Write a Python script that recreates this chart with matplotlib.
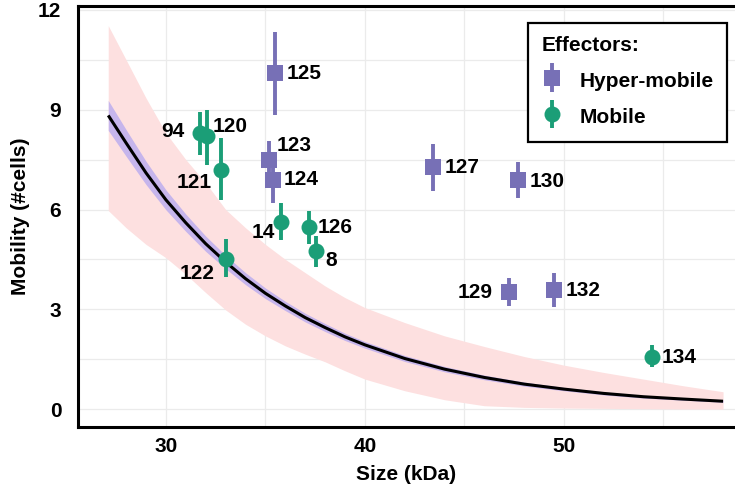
import numpy as np
import matplotlib
matplotlib.use("Agg")
import matplotlib.pyplot as plt
from matplotlib.legend_handler import HandlerErrorbar

plt.rcParams['font.family'] = ['Liberation Sans', 'DejaVu Sans']
plt.rcParams['font.weight'] = 'bold'

# hyper-mobile effectors
hyper_ids = ["125", "123", "124", "127", "130", "129", "132"]
hyper_size = [35.48, 35.18, 35.38, 43.42, 47.7, 47.24, 49.5]
hyper_mob = [10.1, 7.5, 6.9, 7.27, 6.9, 3.51, 3.57]
hyper_lo = [8.83, 7.0, 6.2, 6.57, 6.36, 3.09, 3.06]
hyper_hi = [11.35, 8.05, 7.4, 7.98, 7.42, 3.93, 4.08]

# mobile effectors
mob_ids = ["94", "120", "121", "14", "126", "8", "122", "134"]
mob_size = [31.7, 32.06, 32.76, 35.78, 37.19, 37.54, 33.0, 54.42]
mob_mob = [8.3, 8.2, 7.2, 5.62, 5.47, 4.75, 4.5, 1.56]
mob_lo = [7.63, 7.33, 6.28, 5.07, 4.95, 4.26, 3.96, 1.26]
mob_hi = [8.92, 9.0, 8.14, 6.19, 5.95, 5.2, 5.1, 1.92]

# fitted curve + bands
fit_x = [27.1, 28, 29, 30, 31, 32, 33, 34, 35, 36, 37, 38, 39, 40,
         42, 44, 46, 48, 50, 52, 54, 56, 58]
fit_y = [8.83, 8.0, 7.1, 6.29, 5.6, 4.97, 4.42, 3.92, 3.48, 3.1, 2.75, 2.45, 2.17, 1.93,
         1.52, 1.2, 0.95, 0.75, 0.6, 0.47, 0.37, 0.3, 0.235]
outer_hi = [11.53, 10.5, 9.35, 8.3, 7.5, 6.8, 6.0, 5.45, 4.95, 4.5, 4.1, 3.7, 3.35, 3.05,
            2.6, 2.2, 1.88, 1.58, 1.32, 1.1, 0.9, 0.7, 0.52]
outer_lo = [5.97, 5.45, 4.95, 4.55, 4.05, 3.5, 2.98, 2.55, 2.2, 1.9, 1.65, 1.42, 1.15, 0.9,
            0.55, 0.28, 0.1, 0.05, 0.03, 0.02, 0.01, 0.0, 0.0]
inner_hw = [0.45, 0.4, 0.35, 0.3, 0.26, 0.23, 0.2, 0.18, 0.16, 0.14, 0.13, 0.12, 0.11, 0.1,
            0.09, 0.08, 0.07, 0.06, 0.05, 0.045, 0.04, 0.035, 0.03]

# label offsets in pixels (dx, dy, ha)
hyper_off = [(12, 0, "left"), (8, 14, "left"), (11, 0, "left"), (12, 0, "left"),
             (12, -2, "left"), (-16, 0, "right"), (12, 0, "left")]
mob_off = [(-15, 2, "right"), (6, 10, "left"), (-9, -13, "right"), (-6, -10, "right"),
           (9, 0, "left"), (9, -9, "left"), (-11, -14, "right"), (10, 0, "left")]

purple = "#7770b6"
green = "#1b9e77"
fs = 15

fig = plt.figure(figsize=(7.35, 4.94), dpi=100)
ax = fig.add_axes([78 / 735, 67 / 494, 657 / 735, 421 / 494])

fx = np.array(fit_x)
fy = np.array(fit_y)
hw = np.array(inner_hw)
ax.fill_between(fx, outer_lo, outer_hi, color="#fde0e0", lw=0, zorder=1)
ax.fill_between(fx, fy - hw, fy + hw, color="#c6b5ec", lw=0, zorder=2)
ax.plot(fx, fy, color="black", lw=2.2, zorder=3, solid_capstyle="butt")

def draw(sizes, mobs, lo, hi, col, mk, ms, lab):
    m = np.array(mobs)
    yerr = [m - np.array(lo), np.array(hi) - m]
    return ax.errorbar(sizes, mobs, yerr=yerr, fmt=mk, color=col, ms=ms,
                       elinewidth=2.8, capsize=0, mew=0, zorder=5, label=lab)

h1 = draw(hyper_size, hyper_mob, hyper_lo, hyper_hi, purple, "s", 11.5, "Hyper-mobile")
h2 = draw(mob_size, mob_mob, mob_lo, mob_hi, green, "o", 11.5, "Mobile")

for ids, xs, ys, offs in [(hyper_ids, hyper_size, hyper_mob, hyper_off),
                          (mob_ids, mob_size, mob_mob, mob_off)]:
    for t, x, y, (dx, dy, ha) in zip(ids, xs, ys, offs):
        ax.annotate(t, (x, y), xytext=(dx, dy), textcoords="offset pixels",
                    ha=ha, va="center", fontsize=fs, fontweight="bold", zorder=6)

ax.set_xlim(25.58, 58.6)
ax.set_ylim(-0.54, 12.12)
ax.set_xticks([30, 40, 50])
ax.set_xticks([35, 45, 55], minor=True)
ax.set_yticks([0, 3, 6, 9, 12])
ax.set_yticks([1.5, 4.5, 7.5, 10.5], minor=True)
ax.grid(True, which="both", color="#ebebeb", lw=0.9, zorder=0)
ax.set_axisbelow(True)
ax.tick_params(which="both", length=0)
ax.tick_params(axis="y", pad=12, labelsize=fs)
ax.tick_params(axis="x", pad=7, labelsize=fs)
for lab in ax.get_xticklabels() + ax.get_yticklabels():
    lab.set_fontweight("bold")

for s in ["left", "bottom", "top"]:
    ax.spines[s].set_linewidth(2.2)
    ax.spines[s].set_color("black")
ax.spines["right"].set_visible(False)

ax.set_xlabel("Size (kDa)", fontsize=fs, fontweight="bold", labelpad=7)
ax.set_ylabel("Mobility (#cells)", fontsize=fs, fontweight="bold", labelpad=6)

hmap = {h1: HandlerErrorbar(yerr_size=0.68), h2: HandlerErrorbar(yerr_size=0.68)}
leg = ax.legend(handles=[h1, h2], title="Effectors:", loc="upper right",
                bbox_to_anchor=(0.988, 0.96), borderaxespad=0, fancybox=False,
                framealpha=1, edgecolor="black", prop={"size": fs, "weight": "bold"},
                title_fontproperties={"size": fs, "weight": "bold"},
                handler_map=hmap, handlelength=1.0, handleheight=1.35,
                handletextpad=0.8, borderpad=0.65, labelspacing=0.62)
leg._legend_box.align = "left"
leg.get_frame().set_linewidth(1.6)

fig.savefig("out.png", dpi=100)
